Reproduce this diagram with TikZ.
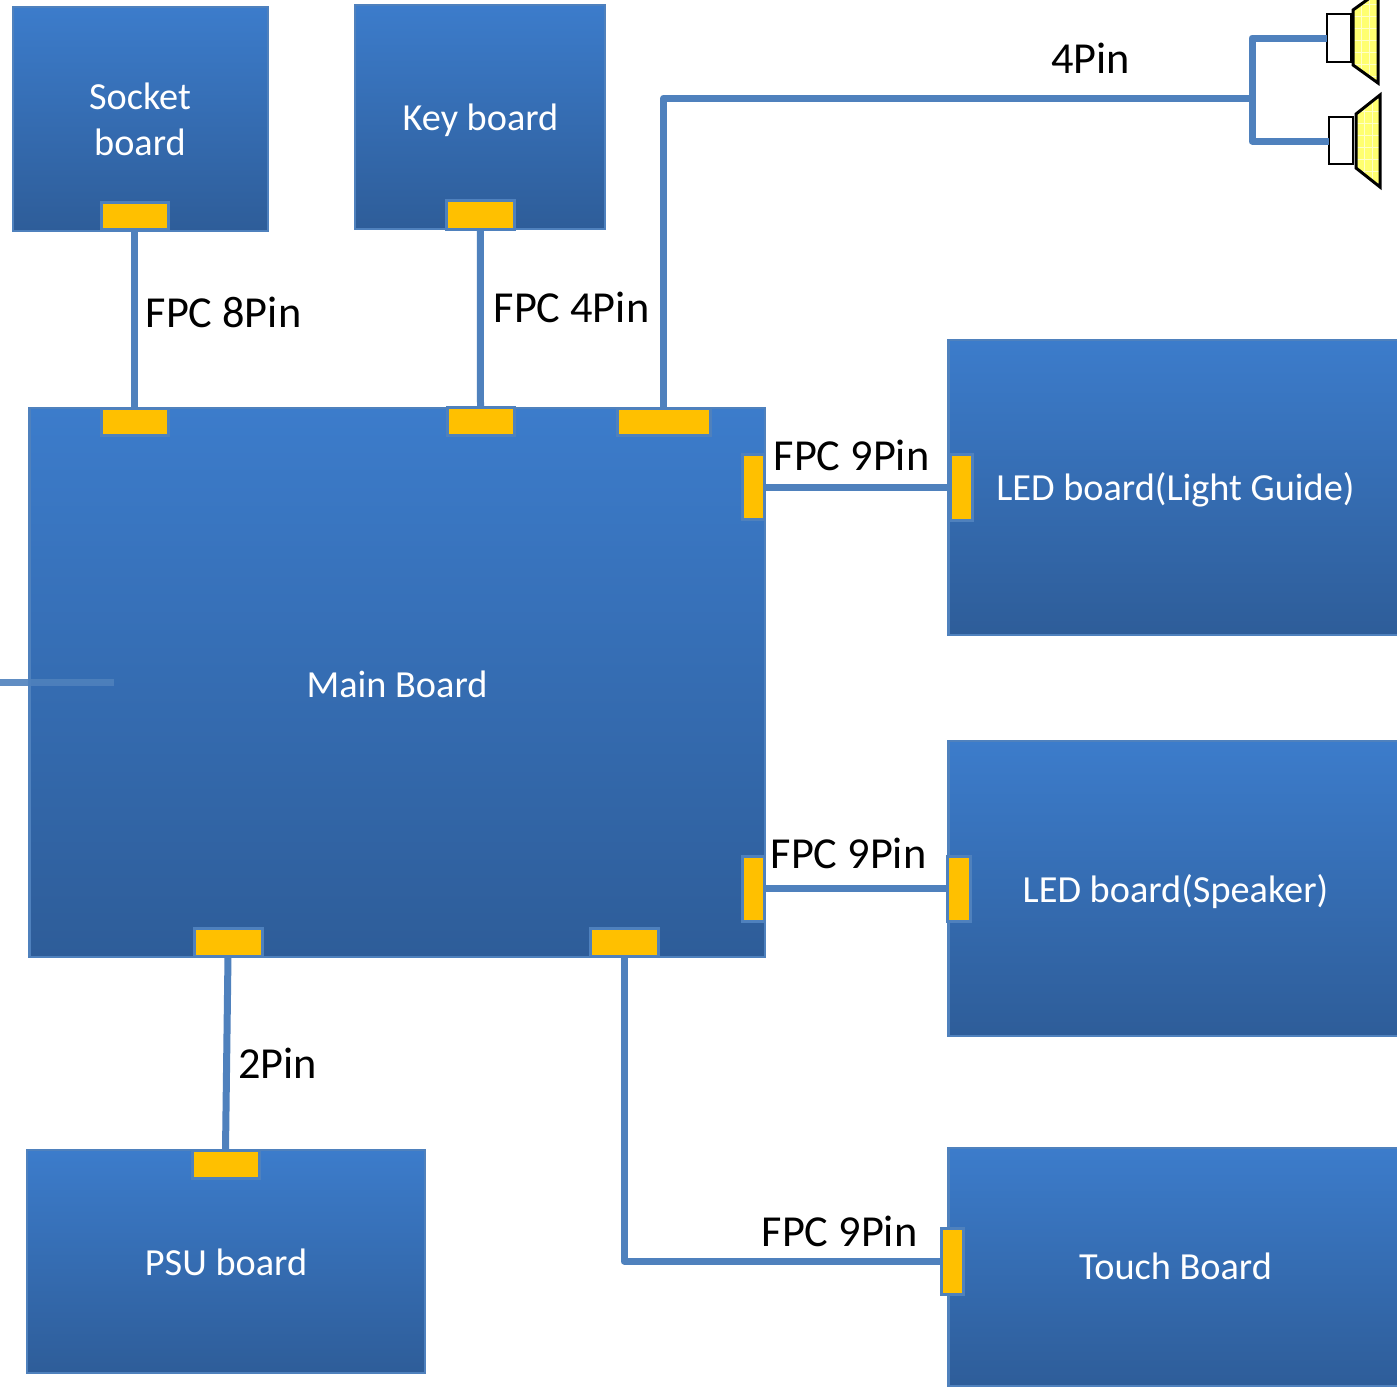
\documentclass[tikz,border=0pt]{standalone}
\usepackage{fontspec}
\setmainfont{Carlito}
\definecolor{edgeblue}{HTML}{4F81BD}
\definecolor{boardtop}{HTML}{3C7CCB}
\definecolor{boardbot}{HTML}{2E5D99}
\definecolor{padfill}{HTML}{FFC000}
\definecolor{conefill}{HTML}{FFFF70}
\newcommand{\boxat}[7]{\node[#1,minimum width={(#5-#3)*1pt},minimum height={(#6-#4)*1pt}] (#2) at ({(#3+#5)/2},{(#4+#6)/2}) {#7};}
\newcommand{\conepoly}[9]{%
  \begin{scope}
    \clip (#1,#2) -- (#3,#4) -- (#5,#6) -- (#7,#8) -- cycle;
    \fill[conefill] (#1,-20) rectangle (#3,200);
    \foreach \gy in {0,12,...,190} \draw[gridline] (#1,#9+\gy) -- (#3,#9+\gy);
    \foreach \gx in {8,16} \draw[gridline] (#1+\gx,-20) -- (#1+\gx,200);
  \end{scope}
  \draw[conedge] (#1,#2) -- (#3,#4) -- (#5,#6) -- (#7,#8) -- cycle;}
\tikzset{
  board/.style={draw=edgeblue,line width=2.5pt,top color=boardtop,bottom color=boardbot,
    inner sep=0pt,outer sep=0pt},
  boardtext/.style={text=white,font=\fontsize{38.3}{46}\selectfont,align=center,inner sep=0pt},
  pad/.style={draw=edgeblue,line width=3pt,fill=padfill,inner sep=0pt,outer sep=0pt},
  wire/.style={draw=edgeblue,line width=7pt,line join=round},
  tag/.style={text=black,font=\fontsize{44.3}{52}\selectfont,inner sep=0pt},
  magnet/.style={draw=black,line width=2.8pt,fill=white,inner sep=0pt,outer sep=0pt},
  conedge/.style={draw=black,line width=3pt,line join=miter},
  gridline/.style={draw=white!60!conefill,line width=0.8pt}
}
\begin{document}
\begin{tikzpicture}[x=1pt,y=-1pt]
\clip (0,0) rectangle (1397,1387);
\fill[white] (0,0) rectangle (1397,1387);
% boards
\boxat{board}{socket}{13}{7}{268}{231}{}
\boxat{board}{key}{355}{5}{605}{229}{}
\boxat{board}{main}{29.5}{408}{765}{957}{}
\boxat{board}{ledone}{948.5}{340}{1400}{635}{}
\boxat{board}{ledtwo}{948.5}{741}{1400}{1036}{}
\boxat{board}{touch}{948.5}{1148}{1400}{1386}{}
\boxat{board}{psu}{27}{1150}{425}{1373}{}
\node[boardtext] (sockettext) at (140,119.5) {Socket\\board};
\node[boardtext] (keytext) at (480.5,120) {Key board};
\node[boardtext] (maintext) at (397,684.5) {Main Board};
\node[boardtext] (psutext) at (226,1262) {PSU board};
\node[boardtext] (ledonetext) at (1175.5,490) {LED board(Light Guide)};
\node[boardtext] (ledtwotext) at (1175.5,892) {LED board(Speaker)};
\node[boardtext] (touchtext) at (1175.5,1266.5) {Touch Board};
% pads
\boxat{pad}{ps}{101}{202}{168}{229}{}
\boxat{pad}{pk}{446.5}{200}{514}{229}{}
\boxat{pad}{ma}{101}{408}{168}{435}{}
\boxat{pad}{mb}{447}{407}{514}{435}{}
\boxat{pad}{mc}{617}{408}{710}{435}{}
\boxat{pad}{md}{742}{454}{764}{519}{}
\boxat{pad}{me}{742}{856}{764}{921}{}
\boxat{pad}{mf}{194}{928}{262}{956}{}
\boxat{pad}{mg}{590}{928}{658}{956}{}
\boxat{pad}{pp}{192}{1150}{259}{1178}{}
\boxat{pad}{pl}{950}{454}{972}{520}{}
\boxat{pad}{pm}{947.5}{856}{970}{921}{}
\boxat{pad}{pt}{941}{1228}{963}{1294}{}
% speakers
\boxat{magnet}{spa}{1327}{14}{1351}{62}{}
\boxat{magnet}{spb}{1329}{117}{1353}{164}{}
\conepoly{1353}{10}{1378}{-8}{1378}{83}{1353}{65}{4}
\conepoly{1356}{114}{1380}{95}{1380}{187}{1356}{168}{3}
% wires
\coordinate (lefta) at (0,682);
\coordinate (leftb) at (114,682);
\coordinate (junction) at (1252,98);
\coordinate (turnup) at (1252,38);
\coordinate (turndown) at (1252,141);
\path[wire] (ps.south) -- (ma.north);
\path[wire] (pk.south) -- (mb.north);
\path[wire] (mc.north) |- (junction);
\path[wire] (spa.west |- turnup) -- (turnup) -- (turndown) -- (spb.west |- turndown);
\path[wire] (md.east |- pl.west) -- (pl.west);
\path[wire] (me.east) -- (pm.west);
\path[wire] (mf.south) -- (pp.north);
\path[wire] (mg.south) |- (pt.west);
\path[wire,draw opacity=0.9] (lefta) -- (leftb);
% labels
\node[tag] (t1) at (223.5,312.5) {FPC 8Pin};
\node[tag] (t2) at (571.5,307.5) {FPC 4Pin};
\node[tag] (t3) at (1090.5,58.5) {4Pin};
\node[tag] (t4) at (851.5,455.5) {FPC 9Pin};
\node[tag] (t5) at (848.5,853.5) {FPC 9Pin};
\node[tag] (t6) at (839.5,1231.5) {FPC 9Pin};
\node[tag] (t7) at (277.5,1063.5) {2Pin};
\end{tikzpicture}
\end{document}
